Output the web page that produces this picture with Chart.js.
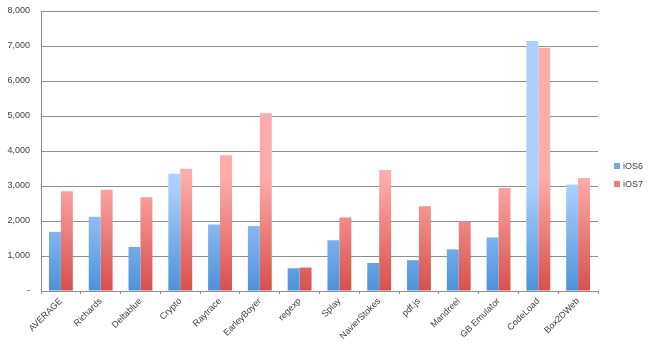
<!DOCTYPE html>
<html>
<head>
<meta charset="utf-8">
<script src="https://cdn.jsdelivr.net/npm/chart.js@4"></script>
<style>
  html, body { margin: 0; padding: 0; background: #fff; }
  #wrap { width: 656px; height: 352px; }
</style>
</head>
<body>
<div id="wrap"><canvas id="barChart"></canvas></div>
<script>
const LABELS = ["AVERAGE", "Richards", "Deltablue", "Crypto", "Raytrace", "EarleyBoyer", "regexp", "Splay", "NavierStokes", "pdf.js", "Mandreel", "GB Emulator", "CodeLoad", "Box2DWeb"];
const IOS6 = [1690, 2120, 1260, 3350, 1900, 1860, 650, 1450, 800, 880, 1190, 1530, 7140, 3040];
const IOS7 = [2850, 2890, 2680, 3490, 3880, 5080, 670, 2100, 3460, 2420, 1990, 2940, 6950, 3230];
const Y_TICKS = [0, 1000, 2000, 3000, 4000, 5000, 6000, 7000, 8000];

const TEXT = "#404040";
const GRID = "#8e8e8e";
const FONT = { family: "'Liberation Sans', Arial, sans-serif", size: 9 };

// top/bottom colours for each series, used for the per-bar gradient
const SHADES = [
    ["#acd0fd", "#4d92da"],
    ["#fcacaa", "#d8504c"]
];
const KEY_COLORS = ["#6fa8ea", "#ea7d7a"];

const barGradient = {
    id: "barGradient",
    beforeDatasetsDraw(chart) {
        const ctx = chart.ctx;
        chart.data.datasets.forEach((ds, i) => {
            chart.getDatasetMeta(i).data.forEach(bar => {
                const g = ctx.createLinearGradient(0, bar.y, 0, bar.base);
                g.addColorStop(0, SHADES[i][0]);
                g.addColorStop(1, SHADES[i][1]);
                bar.options.backgroundColor = g;
            });
        });
    }
};

const sideLegend = {
    id: "sideLegend",
    afterDraw(chart) {
        const ctx = chart.ctx;
        const x = chart.chartArea.right + 16;
        ctx.save();
        ctx.font = FONT.size + "px " + FONT.family;
        ctx.textBaseline = "middle";
        chart.data.datasets.forEach((ds, i) => {
            const y = 166 + i * 18;
            ctx.fillStyle = KEY_COLORS[i];
            ctx.fillRect(x, y - 3, 6, 6);
            ctx.fillStyle = TEXT;
            ctx.fillText(ds.label, x + 9, y + 0.5);
        });
        ctx.restore();
    }
};

Chart.defaults.font = FONT;
Chart.defaults.color = TEXT;

new Chart(document.getElementById("barChart"), {
    type: "bar",
    data: {
        labels: LABELS,
        datasets: [
            { label: "iOS6", data: IOS6, backgroundColor: SHADES[0][1], borderWidth: 0 },
            { label: "iOS7", data: IOS7, backgroundColor: SHADES[1][1], borderWidth: 0 }
        ]
    },
    plugins: [barGradient, sideLegend],
    options: {
        responsive: true,
        maintainAspectRatio: false,
        animation: false,
        layout: { padding: { top: 11, right: 58, left: 0, bottom: 0 } },
        datasets: { bar: { categoryPercentage: 0.6, barPercentage: 1.0 } },
        plugins: {
            legend: { display: false },
            tooltip: { enabled: false }
        },
        scales: {
            x: {
                grid: { display: true, drawOnChartArea: false, offset: true, color: GRID, tickLength: 3 },
                border: { color: GRID },
                ticks: { maxRotation: 45, minRotation: 45, padding: 2, font: FONT, color: TEXT },
                afterFit(scale) { scale.height = 61; }
            },
            y: {
                min: 0,
                max: 8000,
                afterBuildTicks(scale) { scale.ticks = Y_TICKS.map(v => ({ value: v })); },
                // invisible tick marks keep the labels clear of the axis
                grid: { color: GRID, drawTicks: true, tickLength: 11, tickColor: "rgba(0,0,0,0)" },
                border: { color: GRID },
                ticks: {
                    padding: 0,
                    font: FONT,
                    color: TEXT,
                    callback: v => v === 0 ? "-" : v.toLocaleString("en-US")
                },
                afterFit(scale) { scale.width = 41; }
            }
        }
    }
});
</script>
</body>
</html>
